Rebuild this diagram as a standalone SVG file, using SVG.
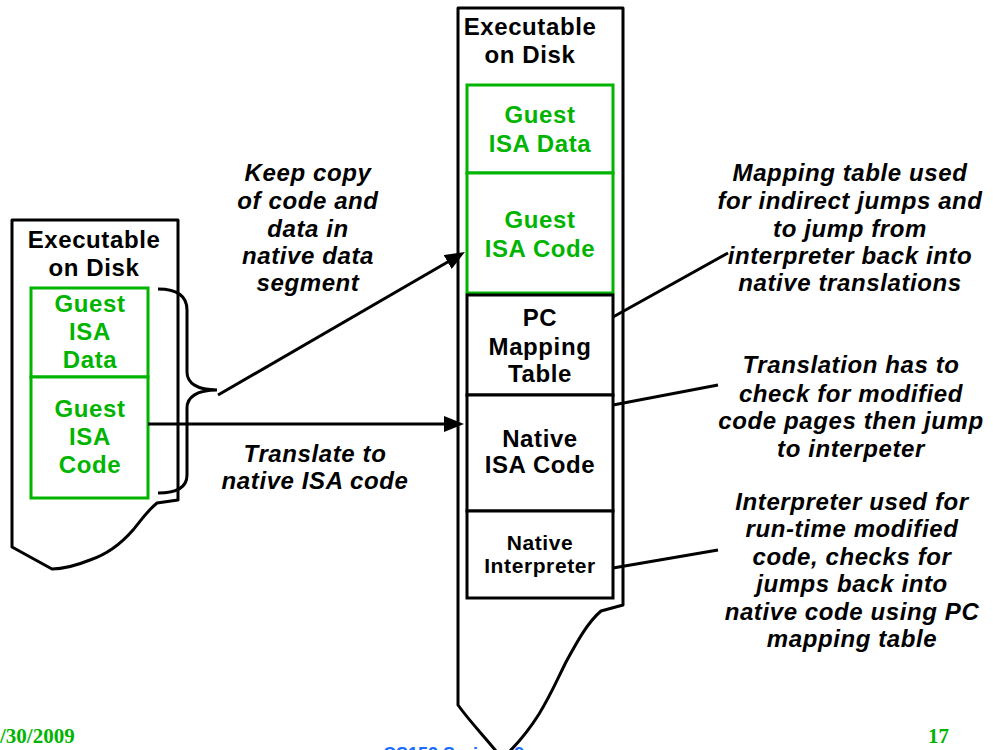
<svg xmlns="http://www.w3.org/2000/svg" width="993" height="750" viewBox="0 0 993 750">
<style>
.shape{fill:#fff;stroke:#000;stroke-width:3;stroke-linejoin:round}
.gbox{fill:#fff;stroke:#00b400;stroke-width:3}
.kbox{fill:#fff;stroke:#000;stroke-width:3}
.t{font-family:"Liberation Sans",Arial,sans-serif;font-weight:bold;font-size:24px;letter-spacing:0.6px;text-anchor:middle;fill:#000}
.g{fill:#00b400}
.i{font-style:italic}
.sm{font-size:21px}
.conn{stroke:#000;stroke-width:3;fill:none}
.foot{font-family:"Liberation Serif","Times New Roman",serif;font-weight:bold;font-size:21px;fill:#00b400}
</style>
<defs>
<marker id="ah" viewBox="0 0 20 16" refX="12" refY="8" markerWidth="20" markerHeight="16" markerUnits="userSpaceOnUse" orient="auto">
<path d="M0,0 L20,8 L0,16 Z" fill="#000"/>
</marker>
</defs>
<rect width="993" height="750" fill="#fff"/>
<text x="383" y="760" font-family="Liberation Sans,Arial,sans-serif" font-weight="bold" font-size="18" fill="#1a6cff">CS152 Spring'09</text>
<g id="footer">
<text class="foot" x="0" y="743">/30/2009</text>
<text class="foot" x="928" y="743">17</text>
</g>
<g id="left-exe">
<path class="shape" d="M12,220 H178 V500 L157,503 C146,512 140,522 133,530 C120,545 105,555 90,560 C75,566 62,569 52,569 L12,547 Z"/>
<text class="t" x="94" y="248">Executable</text>
<text class="t" x="94" y="276">on Disk</text>
</g>
<g id="left-data">
<rect class="gbox" x="31" y="288" width="117" height="89"/>
<text class="t g" x="90" y="312">Guest</text>
<text class="t g" x="90" y="340">ISA</text>
<text class="t g" x="90" y="368">Data</text>
</g>
<g id="left-code">
<rect class="gbox" x="31" y="377" width="117" height="121"/>
<text class="t g" x="90" y="417">Guest</text>
<text class="t g" x="90" y="445">ISA</text>
<text class="t g" x="90" y="473">Code</text>
</g>
<g id="right-exe">
<path class="shape" d="M458,8 H623 V605 L601,611 C588,622 578,640 566,662 C552,690 540,722 505,756 L500,756 C486,738 470,722 458,705 Z"/>
<text class="t" x="530" y="35">Executable</text>
<text class="t" x="530" y="63">on Disk</text>
</g>
<g id="right-data">
<rect class="gbox" x="467" y="85" width="146" height="88"/>
<text class="t g" x="540" y="123">Guest</text>
<text class="t g" x="540" y="152">ISA Data</text>
</g>
<g id="right-code">
<rect class="gbox" x="467" y="173" width="146" height="120"/>
<text class="t g" x="540" y="228">Guest</text>
<text class="t g" x="540" y="257">ISA Code</text>
</g>
<g id="pc-map">
<rect class="kbox" x="467" y="295" width="146" height="100"/>
<text class="t" x="540" y="326">PC</text>
<text class="t" x="540" y="355">Mapping</text>
<text class="t" x="540" y="382">Table</text>
</g>
<g id="native-code">
<rect class="kbox" x="467" y="395" width="146" height="116"/>
<text class="t" x="540" y="447">Native</text>
<text class="t" x="540" y="473">ISA Code</text>
</g>
<g id="native-interp">
<rect class="kbox" x="467" y="511" width="146" height="87"/>
<text class="t sm" x="540" y="550">Native</text>
<text class="t sm" x="540" y="573">Interpreter</text>
</g>
<g id="connectors">
<path class="conn" d="M158,289 C178,289 187,296 187,310 L187,372 C187,383 197,390 217,390 C197,390 187,397 187,408 L187,475 C187,487 178,493 158,493"/>
<line class="conn" x1="218" y1="395" x2="458" y2="256" stroke-width="3.5" marker-end="url(#ah)"/>
<line class="conn" x1="148" y1="424" x2="456" y2="424" stroke-width="5" marker-end="url(#ah)"/>
<line class="conn" x1="613" y1="317" x2="728" y2="253"/>
<line class="conn" x1="613" y1="405" x2="718" y2="385"/>
<line class="conn" x1="613" y1="568" x2="718" y2="550"/>
</g>
<g id="labels">
<text class="t i" x="308" y="181">Keep copy</text>
<text class="t i" x="308" y="209">of code and</text>
<text class="t i" x="308" y="237">data in</text>
<text class="t i" x="308" y="264">native data</text>
<text class="t i" x="308" y="291">segment</text>
<text class="t i" x="315" y="462">Translate to</text>
<text class="t i" x="315" y="489">native ISA code</text>
<text class="t i" x="850" y="181">Mapping table used</text>
<text class="t i" x="850" y="209">for indirect jumps and</text>
<text class="t i" x="850" y="237">to jump from</text>
<text class="t i" x="850" y="264">interpreter back into</text>
<text class="t i" x="850" y="291">native translations</text>
<text class="t i" x="851" y="373">Translation has to</text>
<text class="t i" x="851" y="402">check for modified</text>
<text class="t i" x="851" y="429">code pages then jump</text>
<text class="t i" x="851" y="457">to interpeter</text>
<text class="t i" x="852" y="510">Interpreter used for</text>
<text class="t i" x="852" y="537">run-time modified</text>
<text class="t i" x="852" y="565">code, checks for</text>
<text class="t i" x="852" y="592">jumps back into</text>
<text class="t i" x="852" y="620">native code using PC</text>
<text class="t i" x="852" y="647">mapping table</text>
</g>
</svg>
